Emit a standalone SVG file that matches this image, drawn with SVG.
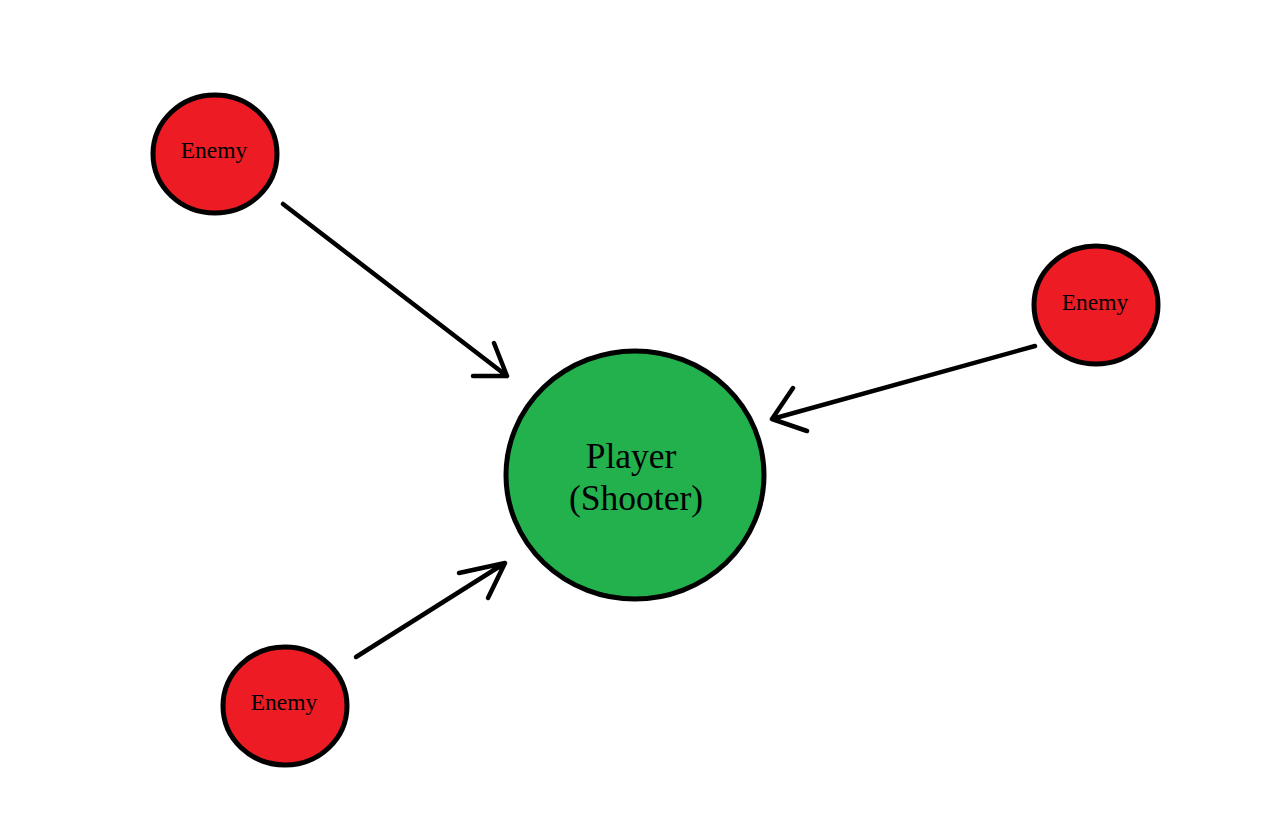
<svg xmlns="http://www.w3.org/2000/svg" width="1272" height="831" viewBox="0 0 1272 831">
<style>
.enemy{fill:#ED1C24;stroke:#000;stroke-width:5}
.player{fill:#22B14C;stroke:#000;stroke-width:5}
.lbl{font-family:"Liberation Serif","Times New Roman",serif;fill:#000;text-anchor:middle}
.conn{fill:none;stroke:#000;stroke-width:4.5;stroke-linecap:round;stroke-linejoin:round}
</style>
<rect width="1272" height="831" fill="#fff"/>
<g id="connectors">
<path class="conn" d="M283,204 L507,376 M473,376 L507,376 L494,343"/>
<path class="conn" d="M1035,346 L772,419 M793,388 L772,419 L807,431"/>
<path class="conn" d="M356,657 L505,563 M459,573 L505,563 L488,598"/>
</g>
<g id="enemy1">
<ellipse class="enemy" cx="215" cy="154" rx="62" ry="59"/>
<text class="lbl" x="214" y="158" font-size="23.5">Enemy</text>
</g>
<g id="enemy2">
<ellipse class="enemy" cx="1096" cy="305" rx="62" ry="59"/>
<text class="lbl" x="1095" y="310" font-size="23.5">Enemy</text>
</g>
<g id="enemy3">
<ellipse class="enemy" cx="285" cy="706" rx="62" ry="59"/>
<text class="lbl" x="284" y="710" font-size="23.5">Enemy</text>
</g>
<g id="player">
<ellipse class="player" cx="635" cy="475" rx="129" ry="124"/>
<text class="lbl" x="631" y="468" font-size="35.5">Player</text>
<text class="lbl" x="636" y="510" font-size="35.5">(Shooter)</text>
</g>
</svg>
